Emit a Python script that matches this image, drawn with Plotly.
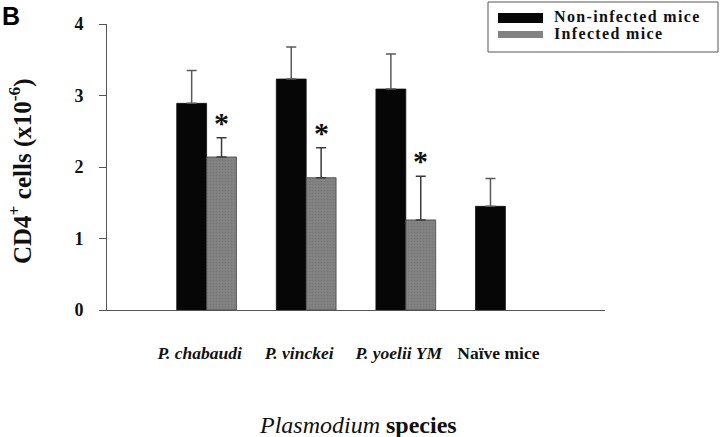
import plotly.graph_objects as go

# ---- data ----
categories = ["P. chabaudi", "P. vinckei", "P. yoelii YM", "Naïve mice"]
tick_labels = ["<b><i>P. chabaudi</i></b>", "<b><i>P. vinckei</i></b>",
               "<b><i>P. yoelii YM</i></b>", "<b>Naïve mice</b>"]
non_infected = [2.89, 3.23, 3.09, 1.45]
non_infected_err = [0.46, 0.45, 0.49, 0.39]
infected = [2.14, 1.85, 1.26, None]
infected_err = [0.27, 0.42, 0.61, None]
significant = [True, True, True, False]
series_names = ["Non-infected mice", "Infected mice"]
y_ticks = [0, 1, 2, 3, 4]

# ---- layout geometry (pixels) ----
W, H = 720, 437
PL, PR, PT, PB = 107, 605, 24, 310

def px(x):
    return (x - PL) / (PR - PL)

def py(y):
    return (PB - y) / (PB - PT)

def spaced(s):
    # emulate the wide letter spacing of the original legend
    return "\u200a".join(list(s))

SERIF = "Liberation Serif, Times New Roman, serif"
BLACK = "#060606"
GRAY = "#828282"
AXIS = "#555555"

fig = go.Figure()
fig.add_trace(go.Bar(
    x=categories, y=non_infected, name=series_names[0],
    marker=dict(color=BLACK, line=dict(color="#111111", width=0.8)),
    error_y=dict(type="data", symmetric=False, array=non_infected_err,
                 arrayminus=[0] * len(non_infected_err),
                 color="#5a5a5a", thickness=1.5, width=5),
    showlegend=False,
))
fig.add_trace(go.Bar(
    x=categories, y=infected, name=series_names[1],
    marker=dict(color=GRAY, line=dict(color="#444444", width=0.8),
                pattern=dict(shape=".", fgcolor="#6a6a6a", bgcolor=GRAY,
                             size=3, solidity=0.25)),
    error_y=dict(type="data", symmetric=False,
                 array=[e if e is not None else 0 for e in infected_err],
                 arrayminus=[0] * len(infected_err),
                 color="#3a3a3a", thickness=1.5, width=5),
    showlegend=False,
))

annotations = []
# significance asterisks above infected bars
for c, v, e, s in zip(categories, infected, infected_err, significant):
    if s and v is not None:
        annotations.append(dict(
            x=c, y=v + e, xref="x", yref="y", text="<b>*</b>", showarrow=False,
            xshift=15, yshift=-3, yanchor="bottom",
            font=dict(family=SERIF, size=30, color="#111111")))

# y-axis title
annotations.append(dict(
    x=px(20), y=py(171), xref="paper", yref="paper", textangle=-90,
    text="<b>CD4<sup>+</sup> cells (x10<sup>-6</sup>)</b>", showarrow=False,
    xanchor="center", yanchor="middle",
    font=dict(family=SERIF, size=25, color="#111111")))
# x-axis title
annotations.append(dict(
    x=px(358), y=py(425), xref="paper", yref="paper",
    text="<i>Plasmodium</i> <b>species</b>", showarrow=False,
    xanchor="center", yanchor="middle",
    font=dict(family=SERIF, size=24, color="#111111")))
# panel letter
annotations.append(dict(
    x=px(0), y=py(0), xref="paper", yref="paper", text="<b>B</b>",
    showarrow=False, xanchor="left", yanchor="top",
    font=dict(family="Liberation Sans, Arial, sans-serif", size=25, color="#000000")))

# legend (drawn manually)
shapes = [
    dict(type="rect", xref="paper", yref="paper",
         x0=px(488), x1=px(718), y0=py(52), y1=py(2),
         line=dict(color="#555555", width=1), fillcolor="white", layer="below"),
    dict(type="rect", xref="paper", yref="paper",
         x0=px(498), x1=px(543), y0=py(23), y1=py(13),
         line=dict(width=0), fillcolor=BLACK),
    dict(type="rect", xref="paper", yref="paper",
         x0=px(498), x1=px(543), y0=py(38), y1=py(31),
         line=dict(width=0), fillcolor=GRAY),
]
for name, yc in zip(series_names, [16, 33]):
    annotations.append(dict(
        x=px(552), y=py(yc), xref="paper", yref="paper",
        text="<b>" + spaced(name) + "</b>",
        showarrow=False, xanchor="left", yanchor="middle",
        font=dict(family=SERIF, size=16, color="#111111")))

fig.update_layout(
    width=W, height=H,
    margin=dict(l=PL, r=W - PR, t=PT, b=H - PB, pad=0),
    paper_bgcolor="white", plot_bgcolor="white",
    barmode="group", bargap=0.4, bargroupgap=0,
    annotations=annotations, shapes=shapes,
    showlegend=False,
    xaxis=dict(
        type="category", range=[-1, 4],
        tickmode="array", tickvals=categories, ticktext=tick_labels,
        ticks="", showgrid=False, zeroline=False,
        showline=True, linecolor=AXIS, linewidth=1,
        ticklabelstandoff=27, ticklabelshift=-7,
        tickfont=dict(family=SERIF, size=17.5, color="#111111"),
    ),
    yaxis=dict(
        range=[0, 4], tickmode="array", tickvals=y_ticks,
        ticktext=["<b>%d</b>" % t for t in y_ticks],
        ticks="outside", ticklen=7, tickcolor=AXIS, tickwidth=1,
        showgrid=False, zeroline=False,
        showline=True, linecolor=AXIS, linewidth=1,
        ticklabelstandoff=12,
        tickfont=dict(family=SERIF, size=18, color="#111111"),
    ),
)

fig.write_html("out.html",
               config={"displayModeBar": False, "staticPlot": True},
               post_script="document.body.style.margin='0px';"
                           "document.body.style.padding='0px';")
